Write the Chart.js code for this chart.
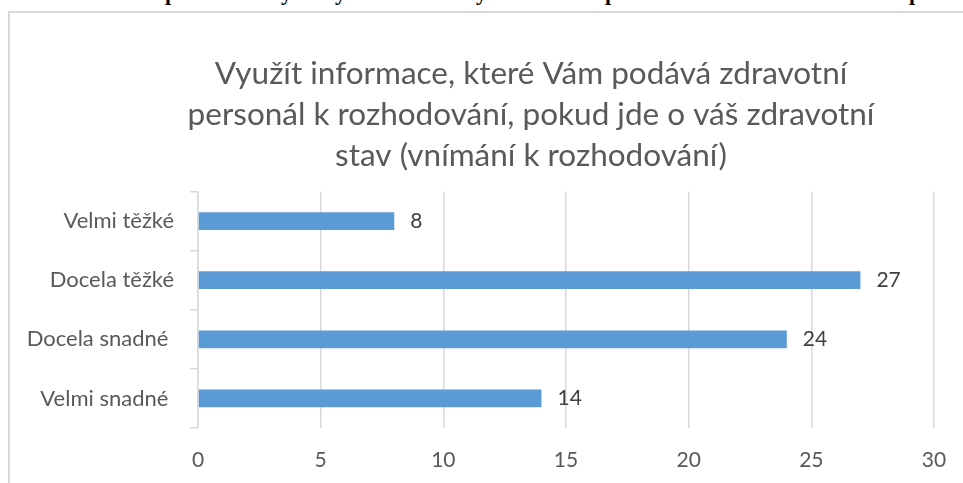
<!DOCTYPE html>
<html>
<head>
<meta charset="utf-8">
<script src="https://cdn.jsdelivr.net/npm/chart.js@4"></script>
<style>
  html, body { margin: 0; padding: 0; background: #fff; overflow: hidden; width: 963px; height: 483px; }
  /* heading of the page above the chart, only its descenders show */
  .cut { position: absolute; top: -18px; font: bold 22px "Liberation Serif", serif; line-height: 22px; color: #000; }
  #frame {
    position: absolute; left: 8px; top: 11px; width: 1046px; height: 520px;
    border-left: 2px solid #d9d9d9; border-top: 2px solid #d9d9d9;
  }
  #wrap { position: absolute; left: 0; top: 0; width: 1042px; height: 470px; }
</style>
</head>
<body>
<span class="cut" style="left:165px">p</span>
<span class="cut" style="left:281px">y</span>
<span class="cut" style="left:335px">y</span>
<span class="cut" style="left:476px">y</span>
<span class="cut" style="left:605px">p</span>
<span class="cut" style="left:909px">p</span>
<div id="frame"><div id="wrap"><canvas id="chart"></canvas></div></div>
<script>
/* ── Data ─────────────────────────────────────────── */
const CATEGORIES = ['Velmi těžké', 'Docela těžké', 'Docela snadné ', 'Velmi snadné '];
const VALUES     = [8, 27, 24, 14];
const X_MIN = 0, X_MAX = 30, X_STEP = 5;
const TITLE = [
  'Využít informace, které Vám podává zdravotní',
  'personál k rozhodování, pokud jde o váš zdravotní',
  'stav (vnímání k rozhodování)'
];

/* ── Colors ───────────────────────────────────────── */
const BLUE  = '#5b9bd5';
const GRID  = '#d9d9d9';
const GREY  = '#595959';
const DARK  = '#404040';
const FONT  = 'Lato';

// value labels to the right of each bar
const barLabels = {
  id: 'barLabels',
  afterDatasetsDraw(chart) {
    const ctx = chart.ctx;
    const meta = chart.getDatasetMeta(0);
    ctx.save();
    ctx.font = '21px ' + FONT;
    ctx.fillStyle = DARK;
    ctx.textAlign = 'left';
    ctx.textBaseline = 'middle';
    meta.data.forEach((bar, i) => {
      ctx.fillText(String(VALUES[i]), bar.x + 16, bar.y);
    });
    ctx.restore();
  }
};

new Chart(document.getElementById('chart'), {
  type: 'bar',
  data: {
    labels: CATEGORIES,
    datasets: [{
      data: VALUES,
      backgroundColor: BLUE,
      borderWidth: 0,
      barPercentage: 0.3,
      categoryPercentage: 1
    }]
  },
  options: {
    indexAxis: 'y',
    responsive: true,
    maintainAspectRatio: false,
    animation: false,
    layout: { padding: 0 },
    plugins: {
      legend: { display: false },
      tooltip: { enabled: false },
      title: {
        display: true,
        text: TITLE,
        color: GREY,
        font: { family: FONT, size: 31.5, weight: 'normal', lineHeight: '41px' },
        padding: { top: 40.5, bottom: 15 }
      }
    },
    scales: {
      x: {
        min: X_MIN, max: X_MAX,
        ticks: { stepSize: X_STEP, color: GREY, font: { family: FONT, size: 21 }, padding: 19.5 },
        grid: { color: GRID, lineWidth: 1.5, drawTicks: false },
        border: { display: false },
        afterFit: s => { s.height = 55; }
      },
      y: {
        ticks: { color: GREY, font: { family: FONT, size: 22 }, padding: 16 },
        grid: { color: GRID, lineWidth: 1.5, drawOnChartArea: false, tickLength: 8, offset: true },
        border: { display: true, color: GRID, width: 1.5 },
        afterFit: s => { s.width = 188; }
      },
      // empty space on the right of the plot, keeps the title centred on the frame
      yRight: {
        type: 'linear',
        position: 'right',
        ticks: { display: false },
        grid: { display: false },
        border: { display: false },
        afterFit: s => { s.width = 118; }
      }
    }
  },
  plugins: [barLabels]
});
</script>
</body>
</html>
